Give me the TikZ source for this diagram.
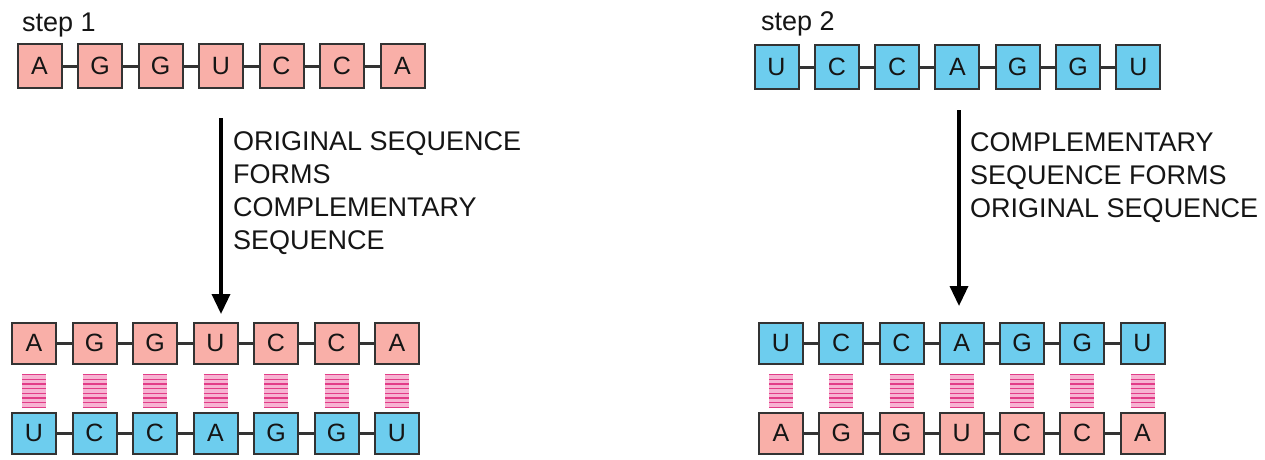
\documentclass[tikz,border=0pt]{standalone}
\usepackage{fontspec}
\setmainfont{Liberation Sans}
\usetikzlibrary{arrows.meta,calc}
\definecolor{pinkbox}{HTML}{F9AFA8}
\definecolor{bluebox}{HTML}{6DCDEE}
\definecolor{edge}{HTML}{333333}
\definecolor{bondline}{HTML}{E23C88}
\definecolor{bondfill}{HTML}{F7B3D2}
\definecolor{txt}{HTML}{151515}
\begin{document}
\begin{tikzpicture}[x=1pt,y=-1pt,
  base/.style={draw=edge,line width=2pt,inner sep=0pt,text=txt,font=\fontsize{25}{25}\selectfont},
  ntop/.style={base,minimum width=44pt,minimum height=44pt},
  nbot/.style={base,minimum width=44pt,minimum height=41pt},
  link/.style={draw=edge,line width=3pt},
  arrowline/.style={line width=3.5pt,-{Triangle[width=18pt,length=20pt]}},
  caption/.style={font=\fontsize{27}{33}\selectfont,text=txt,align=left,inner sep=0pt,anchor=north west},
  steplabel/.style={font=\fontsize{27}{27}\selectfont,text=txt,inner sep=0pt,anchor=base west},
  bondrect/.style={fill=bondfill},
  bondstripe/.style={draw=bondline,line width=1.4pt}
]
\useasboundingbox (0,0) rectangle (1265,460);

% ---------- step 1 ----------
\node[steplabel] (lab1) at (22,32) {step 1};
\foreach \l [count=\i] in {A,G,G,U,C,C,A}
  \node[ntop,fill=pinkbox] (a\i) at ({39.5+60.5*(\i-1)},66) {\l};
\foreach \l [count=\i] in {A,G,G,U,C,C,A}
  \node[nbot,fill=pinkbox] (b\i) at ({34+60.5*(\i-1)},343) {\l};
\foreach \l [count=\i] in {U,C,C,A,G,G,U}
  \node[nbot,fill=bluebox] (c\i) at ({34+60.5*(\i-1)},433) {\l};

\coordinate (s1) at (221,118);
\coordinate (e1) at (221,314);
\draw[arrowline] (s1) -- (e1);
\node[caption] (cap1) at (233,131) {ORIGINAL SEQUENCE\\FORMS\\COMPLEMENTARY\\SEQUENCE};

% ---------- step 2 ----------
\node[steplabel] (lab2) at (761,31) {step 2};
\foreach \l [count=\i] in {U,C,C,A,G,G,U}
  \node[ntop,fill=bluebox] (d\i) at ({776.5+60.3*(\i-1)},67) {\l};
\foreach \l [count=\i] in {U,C,C,A,G,G,U}
  \node[nbot,fill=bluebox] (f\i) at ({781+60.25*(\i-1)},343) {\l};
\foreach \l [count=\i] in {A,G,G,U,C,C,A}
  \node[nbot,fill=pinkbox] (g\i) at ({781+60.25*(\i-1)},433) {\l};

\coordinate (s2) at (959,110);
\coordinate (e2) at (959,306);
\draw[arrowline] (s2) -- (e2);
\node[caption] (cap2) at (970,132) {COMPLEMENTARY\\SEQUENCE FORMS\\ORIGINAL SEQUENCE};

% ---------- backbone links ----------
\foreach \r in {a,b,c,d,f,g}
  \foreach \i/\j in {1/2,2/3,3/4,4/5,5/6,6/7}
    \draw[link] (\r\i.east) -- (\r\j.west);

% ---------- base-pair bonds ----------
\foreach \u/\v in {b/c,f/g}
  \foreach \i in {1,...,7}{
    \fill[bondrect] ($(\u\i.south)+(-12,9)$) rectangle ($(\v\i.north)+(12,-4)$);
    \foreach \k in {0,...,7}
      \draw[bondstripe] ($(\u\i.south)+(-12,10+4.7*\k)$) -- ++(24,0);
  }
\end{tikzpicture}
\end{document}
